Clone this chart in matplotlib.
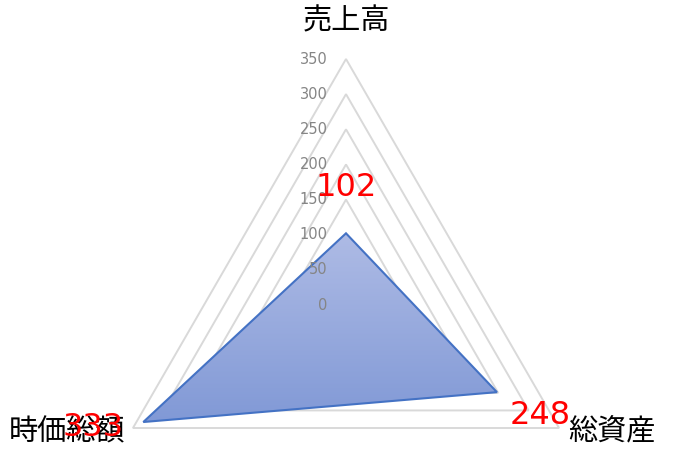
import numpy as np
import matplotlib.pyplot as plt
from matplotlib.patches import Polygon
from matplotlib.colors import LinearSegmentedColormap

plt.rcParams['font.family'] = ['Noto Sans CJK JP', 'DejaVu Sans']

categories = ['売上高', '総資産', '時価総額']
values = [102, 248, 333]
ticks = [0, 50, 100, 150, 200, 250, 300, 350]

# axis angles: top, bottom right, bottom left
angles = np.pi / 2 - np.arange(3) * 2 * np.pi / 3

def to_xy(r):
    r = np.asarray(r, dtype=float)
    return r * np.cos(angles), r * np.sin(angles)

fig = plt.figure(figsize=(6.75, 4.59), dpi=100)
ax = fig.add_axes([0, 0, 1, 1])
scale = 246 / 350  # px per unit
ax.set_xlim(-346 / scale, (675 - 346) / scale)
ax.set_ylim(-154 / scale, 305 / scale)
ax.axis('off')

# grid triangles
for t in ticks[1:]:
    gx, gy = to_xy([t] * 3)
    ax.add_patch(Polygon(np.column_stack([gx, gy]), closed=True, fill=False,
                         edgecolor='#d9d9d9', lw=1.4, zorder=1))

# data polygon with vertical gradient
px, py = to_xy(values)
poly = Polygon(np.column_stack([px, py]), closed=True, facecolor='none',
               edgecolor='#4472C4', lw=1.5, zorder=4)
ax.add_patch(poly)
cmap = LinearSegmentedColormap.from_list('g', ['#8199d6', '#aebbe5'])
grad = np.linspace(0, 1, 256).reshape(-1, 1)
img = ax.imshow(grad, cmap=cmap, origin='lower', aspect='auto',
                extent=[px.min(), px.max(), py.min(), py.max()], zorder=3)
img.set_clip_path(poly)

# tick labels along top axis (show through the fill)
for t in ticks:
    ax.text(-26, t, str(t), ha='right', va='center', fontsize=10.5,
            color='#858585', family='DejaVu Sans', zorder=5)

# category labels
cat_xy = [(0, 404), (378, -181), (-397, -181)]
for name, (cx, cy) in zip(categories, cat_xy):
    ax.text(cx, cy, name, ha='center', va='center', fontsize=21, color='black', zorder=5)

# value labels
val_off = [(0, 33), (31, -17), (-36, -4)]
for v, x, y, (ox, oy) in zip(values, px, py, val_off):
    ax.annotate(str(v), (x, y), xytext=(ox, oy), textcoords='offset points',
                ha='center', va='center', fontsize=23, color='#ff0000',
                family='DejaVu Sans', zorder=6)

fig.savefig('out.png', dpi=100)
